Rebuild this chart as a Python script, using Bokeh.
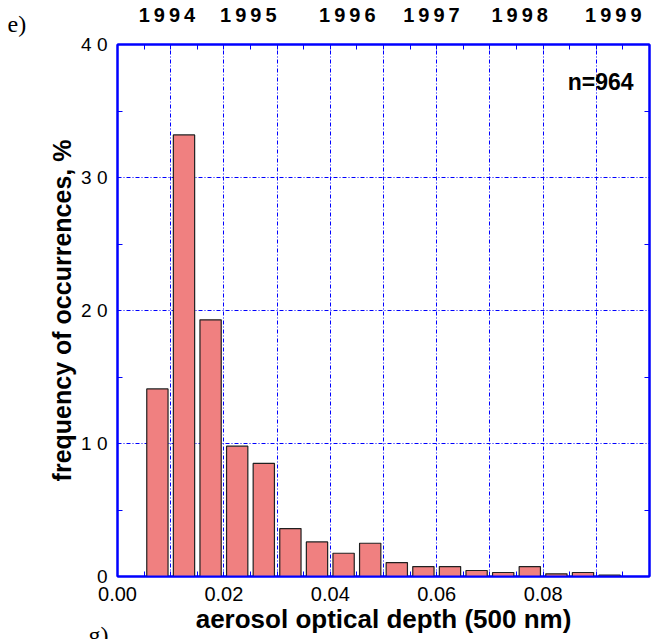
from bokeh.plotting import figure
from bokeh.models import Range1d, FixedTicker, LinearAxis, Label, Title
from bokeh.embed import file_html
from bokeh.resources import INLINE

# ---- data ----
bin_centers = [0.0075, 0.0125, 0.0175, 0.0225, 0.0275, 0.0325, 0.0375, 0.0425, 0.0475,
               0.0525, 0.0575, 0.0625, 0.0675, 0.0725, 0.0775, 0.0825, 0.0875, 0.0925]
frequency = [14.1, 33.2, 19.3, 9.8, 8.5, 3.6, 2.6, 1.75, 2.5,
             1.05, 0.75, 0.75, 0.45, 0.3, 0.75, 0.2, 0.3, 0.1]

x_ticks = [0.0, 0.02, 0.04, 0.06, 0.08]
x_tick_labels = ["0.00", "0.02", "0.04", "0.06", "0.08"]
y_ticks = [0, 10, 20, 30, 40]
y_tick_labels = ["0", "1 0", "2 0", "3 0", "4 0"]
year_positions = [0.0093, 0.0246, 0.0432, 0.0590, 0.0756, 0.0932]
year_labels = ["1994", "1995", "1996", "1997", "1998", "1999"]
n_label = "n=964"

x_minor = [0.005 * i for i in range(1, 20)]
y_minor = [5, 15, 25, 35]
x_grid = [0.01 * i for i in range(1, 10)]
y_grid = [10, 20, 30]

BLUE = "#0000ff"
FONT = "Liberation Sans"

p = figure(width=652, height=639, output_backend="svg", toolbar_location=None,
           x_range=Range1d(0, 0.1), y_range=Range1d(0, 40),
           min_border_left=117, min_border_right=3, min_border_top=43, min_border_bottom=63,
           background_fill_color="white", border_fill_color="white")
p.outline_line_color = BLUE
p.outline_line_width = 2

# grid
p.xgrid.ticker = FixedTicker(ticks=x_grid)
p.ygrid.ticker = FixedTicker(ticks=y_grid)
for g in (p.xgrid, p.ygrid):
    g.grid_line_color = BLUE
    g.grid_line_dash = "4 2 1 2"
    g.grid_line_width = 1

# bars
p.vbar(x=bin_centers, top=frequency, bottom=0, width=0.004,
       fill_color="#f08080", line_color="#202020", line_width=1.2)

def style_axis(ax):
    ax.axis_line_color = BLUE
    ax.axis_line_width = 2
    ax.major_tick_line_color = BLUE
    ax.minor_tick_line_color = BLUE
    ax.major_tick_in = 0
    ax.major_tick_out = 0
    ax.minor_tick_in = 5
    ax.minor_tick_out = 0

# bottom axis
xa = p.xaxis[0]
style_axis(xa)
xa.ticker = FixedTicker(ticks=x_ticks, minor_ticks=x_minor)
xa.major_label_overrides = {v: s for v, s in zip(x_ticks, x_tick_labels)}
xa.major_label_text_font = FONT
xa.major_label_text_font_size = "20px"
xa.major_label_text_color = "black"
xa.major_label_standoff = 10
xa.axis_label = "aerosol optical depth (500 nm)"
xa.axis_label_text_font = FONT
xa.axis_label_text_font_size = "26px"
xa.axis_label_text_font_style = "bold"
xa.axis_label_text_color = "black"
xa.axis_label_standoff = 0

# left axis
ya = p.yaxis[0]
style_axis(ya)
ya.ticker = FixedTicker(ticks=y_ticks, minor_ticks=y_minor)
ya.major_label_overrides = {v: s for v, s in zip(y_ticks, y_tick_labels)}
ya.major_label_text_font = FONT
ya.major_label_text_font_size = "19px"
ya.major_label_text_color = "black"
ya.major_label_standoff = 10
ya.axis_label = "frequency of occurrences, %"
ya.axis_label_text_font = FONT
ya.axis_label_text_font_size = "25px"
ya.axis_label_text_font_style = "bold"
ya.axis_label_text_color = "black"
ya.axis_label_standoff = 2

# top: ticks only (closest to frame)
top_ticks = LinearAxis(ticker=FixedTicker(ticks=[], minor_ticks=x_minor))
style_axis(top_ticks)
top_ticks.major_label_standoff = 0
top_ticks.major_label_text_font_size = "0px"
p.add_layout(top_ticks, "above")

# panel label "e)" (in the top panel, shifted left of the frame)
p.add_layout(Title(text="e)", align="left", offset=-110, vertical_align="bottom", standoff=15,
                   text_font="Liberation Serif", text_font_size="24px",
                   text_font_style="normal", text_color="black"), "above")

# top: year labels (outermost)
top_years = LinearAxis(ticker=FixedTicker(ticks=year_positions))
top_years.axis_line_color = None
top_years.major_tick_line_color = None
top_years.minor_tick_line_color = None
top_years.major_label_overrides = {v: "\u2009".join(s) for v, s in zip(year_positions, year_labels)}
top_years.major_label_text_font = FONT
top_years.major_label_text_font_size = "20px"
top_years.major_label_text_font_style = "bold"
top_years.major_label_text_color = "black"
top_years.major_label_standoff = -30
p.add_layout(top_years, "above")

# right axis (ticks only)
right = LinearAxis(ticker=FixedTicker(ticks=[], minor_ticks=y_minor))
style_axis(right)
right.major_label_standoff = 0
right.major_label_text_font_size = "0px"
p.add_layout(right, "right")

# panel label "g)" of the next panel, mostly cut by the bottom edge
p.add_layout(Title(text="g)", align="left", offset=-29, vertical_align="top", standoff=-29,
                   text_font="Liberation Serif", text_font_size="24px",
                   text_font_style="normal", text_color="black"), "below")

# annotation inside the frame
p.add_layout(Label(x=0.097, y=37.2, text=n_label, text_align="right", text_baseline="alphabetic",
                   text_font=FONT, text_font_size="23px", text_font_style="bold", text_color="black"))

open("out.html", "w").write(file_html(p, INLINE))
